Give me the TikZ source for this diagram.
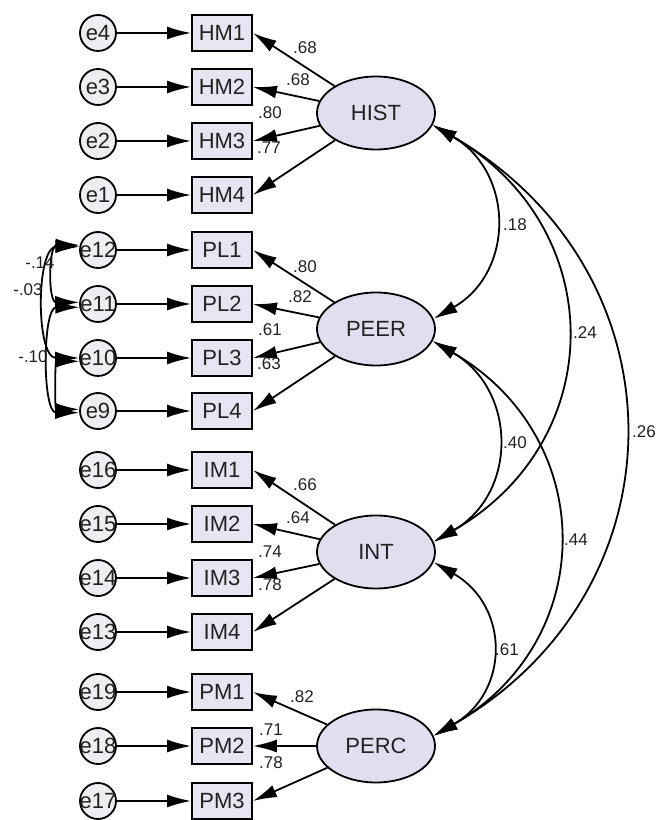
\documentclass[tikz,border=0pt]{standalone}
\usepackage{fontspec}
\setmainfont{Liberation Sans}
\usetikzlibrary{arrows.meta,shapes.geometric}
\definecolor{latfill}{HTML}{E2DEF0}
\definecolor{obsfill}{HTML}{E8E4F2}
\definecolor{errfill}{HTML}{EEEEF2}
\definecolor{ink}{HTML}{222222}

\begin{document}
\begin{tikzpicture}[x=1pt,y=1pt,>={Latex[length=24pt,width=13pt]},
    lat/.style={ellipse,draw,line width=1.8pt,fill=latfill,minimum width=118pt,minimum height=73pt,inner sep=0pt,text=ink,font=\fontsize{22}{24}\selectfont},
    obs/.style={rectangle,draw,line width=1.8pt,fill=obsfill,minimum width=60pt,minimum height=36pt,inner sep=0pt,text=ink,font=\fontsize{22}{24}\selectfont},
    err/.style={circle,draw,line width=1.8pt,fill=errfill,minimum size=36pt,inner sep=0pt,text=ink,font=\fontsize{22}{24}\selectfont},
    arr/.style={->,line width=1.8pt},
    cov/.style={<->,line width=1.8pt},
    coef/.style={inner sep=0pt,text=ink,font=\fontsize{17}{19}\selectfont}]
    \useasboundingbox (0,0) rectangle (657,820);
    % indicators with their error terms
    \foreach \e/\o/\y in {e4/HM1/787,e3/HM2/733,e2/HM3/679,e1/HM4/625,
                          e12/PL1/570,e11/PL2/516,e10/PL3/462,e9/PL4/409,
                          e16/IM1/350,e15/IM2/296,e14/IM3/242,e13/IM4/188,
                          e19/PM1/128,e18/PM2/74,e17/PM3/19}{
        \node[err] (\e) at (98,\y) {\makebox[0pt]{\e}};
        \node[obs] (\o) at (222,\y) {\o};
        \draw[arr] (\e) -- (\o);
    }
    % latent factors
    \node[lat] (HIST) at (376,707) {HIST};
    \node[lat] (PEER) at (376,491) {PEER};
    \node[lat] (INT) at (376,268) {INT};
    \node[lat] (PERC) at (376,74) {PERC};
    % loadings
    \draw[arr] (HIST) -- (HM1.east);
    \draw[arr] (HIST) -- (HM2.east);
    \draw[arr] (HIST) -- (HM3.east);
    \draw[arr] (HIST) -- (HM4.east);
    \draw[arr] (PEER) -- (PL1.east);
    \draw[arr] (PEER) -- (PL2.east);
    \draw[arr] (PEER) -- (PL3.east);
    \draw[arr] (PEER) -- (PL4.east);
    \draw[arr] (INT) -- (IM1.east);
    \draw[arr] (INT) -- (IM2.east);
    \draw[arr] (INT) -- (IM3.east);
    \draw[arr] (INT) -- (IM4.east);
    \draw[arr] (PERC) -- (PM1.east);
    \draw[arr] (PERC) -- (PM2.east);
    \draw[arr] (PERC) -- (PM3.east);
    \node[coef] (w1) at (305,772) {.68};
    \node[coef] (w2) at (298,740) {.68};
    \node[coef] (w3) at (270,707) {.80};
    \node[coef] (w4) at (269,672) {.77};
    \node[coef] (w5) at (305,553) {.80};
    \node[coef] (w6) at (300,523) {.82};
    \node[coef] (w7) at (270,490) {.61};
    \node[coef] (w8) at (269,456) {.63};
    \node[coef] (w9) at (305,335) {.66};
    \node[coef] (w10) at (298,302) {.64};
    \node[coef] (w11) at (270,268) {.74};
    \node[coef] (w12) at (270,235) {.78};
    \node[coef] (w13) at (302,123) {.82};
    \node[coef] (w14) at (271,90) {.71};
    \node[coef] (w15) at (271,57) {.78};
    % factor covariances
    \draw[cov] (HIST.-12) to[out=-30,in=30,looseness=1.24] (PEER.10);
    \draw[cov] (HIST.-12) to[out=-30,in=30,looseness=1.25] (INT.10);
    \draw[cov] (HIST.-12) to[out=-30,in=30,looseness=1.23] (PERC.10);
    \draw[cov] (PEER.-12) to[out=-30,in=30,looseness=1.24] (INT.10);
    \draw[cov] (PEER.-12) to[out=-30,in=30,looseness=1.24] (PERC.10);
    \draw[cov] (INT.-10) to[out=-30,in=30,looseness=1.3] (PERC.10);
    \node[coef] (c1) at (515,595) {.18};
    \node[coef] (c2) at (585,487) {.24};
    \node[coef] (c3) at (644,388) {.26};
    \node[coef] (c4) at (515,377) {.40};
    \node[coef] (c5) at (576,280) {.44};
    \node[coef] (c6) at (507,170) {.61};
    % error covariances
    \draw[cov] (e12.165) to[out=180,in=180,looseness=1.4] (e11.175);
    \draw[cov] (e12.170) to[out=180,in=180,looseness=1] (e10.180);
    \draw[cov] (e11.190) to[out=180,in=180,looseness=0.9] (e9.185);
    \draw[cov] (e10.190) to[out=180,in=180,looseness=1.3] (e9.175);
    \node[coef] (r1) at (40,557) {-.14};
    \node[coef] (r2) at (28,530) {-.03};
    \node[coef] (r3) at (33,463) {-.10};
\end{tikzpicture}
\end{document}
